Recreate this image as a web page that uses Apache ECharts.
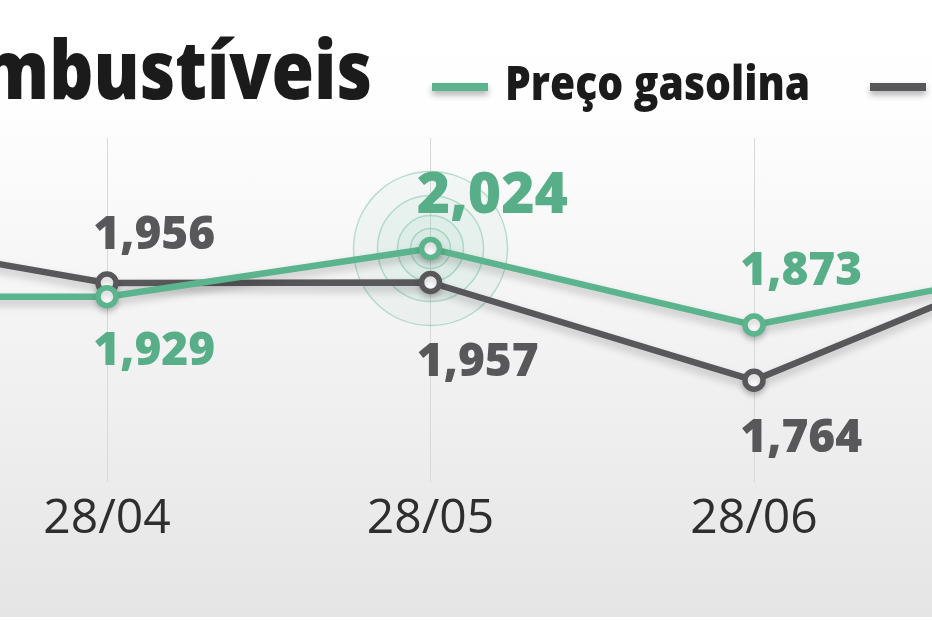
<!DOCTYPE html>
<html><head><meta charset="utf-8">
<script src="https://cdn.jsdelivr.net/npm/echarts@6/dist/echarts.min.js"></script>
<style>
html,body{margin:0;padding:0;width:932px;height:621px;overflow:hidden;background:#fff;}
#bg{position:absolute;left:0;top:0;width:932px;height:617px;background:linear-gradient(to bottom,#ffffff 0px,#fefefe 110px,#e5e5e6 617px);}
#chart{position:absolute;left:0;top:0;width:932px;height:621px;}
</style></head><body><div id="bg"></div><div id="chart"></div>
<script>
// ---- data ----
const categories = ['28/03', '28/04', '28/05', '28/06', '28/07'];
const gasolina = [1.928, 1.929, 2.024, 1.873, 1.997];
const diesel = [2.068, 1.956, 1.957, 1.764, 2.027];
const seriesNames = ['Preço gasolina', 'Preço diesel'];
const titleText = 'Combustíveis';
const highlightIndex = 2;
const labelShown = [false, true, true, true, false];

// ---- label placement (vertical offsets from each point) ----
const gasLabelDy = [0, 52, -55, -56, 0];
const dieselLabelDy = [0, -50, 77, 55, 0];

const colors = ['#5bb48e', '#58585b'];
const labelColors = ['#57ae88', '#58585a'];
const rippleSizes = [154, 106, 66, 40];

const fmt = v => v.toFixed(3).replace('.', ',');

function buildData(values, dys, idx) {
  return values.map((v, i) => ({
    value: v,
    label: {
      show: labelShown[i],
      position: [-2, 15 + dys[i]],
      fontSize: (idx === 0 && i === highlightIndex) ? 57 : 46
    }
  }));
}

const chart = echarts.init(document.getElementById('chart'), null, {renderer: 'canvas'});

const lineSeries = [gasolina, diesel].map((vals, idx) => ({
  name: seriesNames[idx],
  type: 'line',
  data: buildData(vals, idx === 0 ? gasLabelDy : dieselLabelDy, idx),
  z: idx === 0 ? 4 : 3,
  symbol: 'circle',
  symbolSize: 18,
  showAllSymbol: true,
  animation: false,
  lineStyle: {color: colors[idx], width: 6.5, shadowColor: 'rgba(0,0,0,0.22)', shadowBlur: 8, shadowOffsetY: 5},
  itemStyle: {color: '#ffffff', borderColor: colors[idx], borderWidth: 5.5, shadowColor: 'rgba(0,0,0,0.18)', shadowBlur: 6, shadowOffsetY: 4},
  label: {
    show: true,
    formatter: p => fmt(p.value),
    align: 'left',
    verticalAlign: 'middle',
    color: labelColors[idx],
    fontFamily: '"Open Sans", sans-serif',
    fontWeight: 800,
    fontSize: 46
  },
  emphasis: {disabled: true}
}));

const rippleSeries = rippleSizes.map((s, k) => ({
  type: 'scatter',
  data: [[categories[highlightIndex], gasolina[highlightIndex]]],
  symbol: 'circle',
  symbolSize: s,
  z: 1,
  silent: true,
  animation: false,
  itemStyle: {color: 'rgba(91,180,142,0.07)', borderColor: 'rgba(91,180,142,0.5)', borderWidth: 1.5}
}));

const legendX = [432, 870];
const graphics = [{
  type: 'text', x: 372, y: 76, scaleX: 0.84, z: 10,
  style: {text: titleText, font: '800 82px "Open Sans", sans-serif', fill: '#1b1b1b',
          textAlign: 'right', textVerticalAlign: 'middle', align: 'right', verticalAlign: 'middle'}
}];
seriesNames.forEach((n, i) => {
  graphics.push({
    type: 'rect', z: 10,
    shape: {x: legendX[i], y: 83, width: 56, height: 8},
    style: {fill: colors[i], shadowColor: 'rgba(0,0,0,0.3)', shadowBlur: 6, shadowOffsetY: 4}
  });
  graphics.push({
    type: 'text', x: legendX[i] + 73, y: 86, scaleX: 0.85, z: 10,
    style: {text: n, font: '800 48px "Open Sans", sans-serif', fill: '#1b1b1b',
            textAlign: 'left', textVerticalAlign: 'middle', align: 'left', verticalAlign: 'middle'}
  });
});

chart.setOption({
  backgroundColor: 'transparent',
  animation: false,
  grid: {left: -216.5, right: -145.5, top: 138, bottom: 139, containLabel: false, outerBoundsMode: 'none'},
  xAxis: {
    type: 'category',
    data: categories,
    boundaryGap: false,
    axisLine: {show: false},
    axisTick: {show: false},
    splitLine: {show: true, lineStyle: {color: '#d9d9d9', width: 1}},
    axisLabel: {color: '#2e2e2e', fontFamily: '"Open Sans", sans-serif', fontSize: 48, margin: 13, interval: 0}
  },
  yAxis: {
    type: 'value', min: 1.5632, max: 2.2422, show: false, splitLine: {show: false}
  },
  graphic: graphics,
  series: [...rippleSeries, ...lineSeries]
});
</script></body></html>
